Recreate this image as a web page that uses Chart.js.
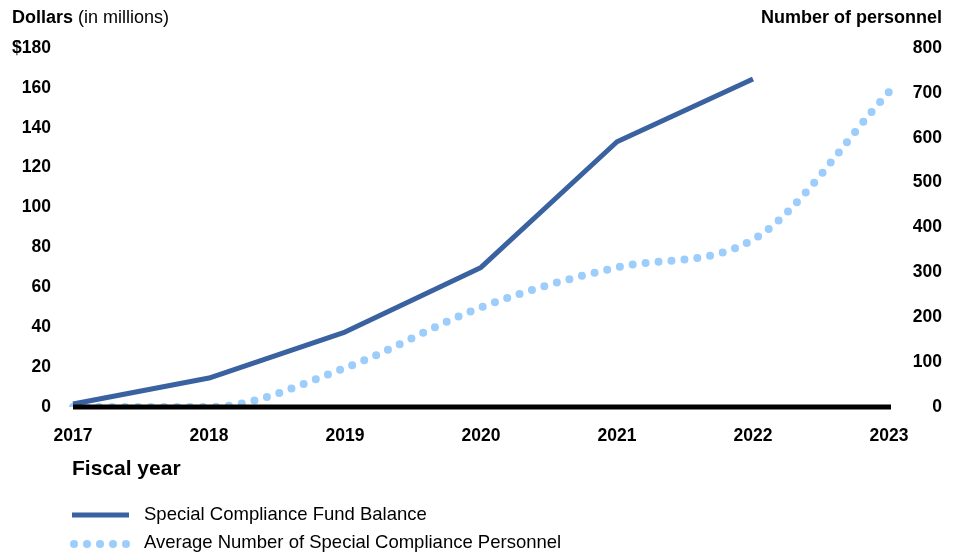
<!DOCTYPE html>
<html>
<head>
<meta charset="utf-8">
<script src="https://cdn.jsdelivr.net/npm/chart.js@4"></script>
<style>
  html, body { margin: 0; padding: 0; background: #fff; }
  #wrap { width: 962px; height: 556px; position: relative; }
</style>
</head>
<body>
<div id="wrap"><canvas id="chart" width="962" height="556"></canvas></div>
<script>
const darkBlue = "#3a62a0";
const lightBlue = "#9ccdfb";
const fontFamily = "'Liberation Sans', Arial, sans-serif";

// data
const years = ["2017", "2018", "2019", "2020", "2021", "2022", "2023"];
const fundBalance = [1.5, 14.5, 37.6, 70, 133, 164.5, null];
const personnel = [0, 0, 87, 222, 311, 373, 702];
const dollarTicks = [0, 20, 40, 60, 80, 100, 120, 140, 160, 180];
const personnelTicks = [0, 100, 200, 300, 400, 500, 600, 700, 800];

const tickFont = { family: fontFamily, size: 17.5, weight: "bold" };

const extras = {
  id: "extras",
  afterDatasetsDraw(chart) {
    const { ctx, chartArea } = chart;
    ctx.save();
    // thick x axis line on top of the data
    ctx.strokeStyle = "#000";
    ctx.lineWidth = 5;
    ctx.beginPath();
    ctx.moveTo(chartArea.left, chartArea.bottom);
    ctx.lineTo(chartArea.right + 2, chartArea.bottom);
    ctx.stroke();

    ctx.fillStyle = "#000";
    ctx.textBaseline = "middle";
    // left axis title
    ctx.font = "bold 18px " + fontFamily;
    ctx.textAlign = "left";
    ctx.fillText("Dollars", 12, 18);
    const w = ctx.measureText("Dollars ").width;
    ctx.font = "18px " + fontFamily;
    ctx.fillText("(in millions)", 12 + w, 18);
    // right axis title
    ctx.font = "bold 18px " + fontFamily;
    ctx.textAlign = "right";
    ctx.fillText("Number of personnel", 942, 18);
    // x axis title
    ctx.textAlign = "left";
    ctx.font = "bold 21px " + fontFamily;
    ctx.fillText("Fiscal year", 72, 469);

    // legend
    ctx.strokeStyle = darkBlue;
    ctx.lineWidth = 5;
    ctx.lineCap = "butt";
    ctx.beginPath();
    ctx.moveTo(72, 515);
    ctx.lineTo(129, 515);
    ctx.stroke();
    ctx.fillStyle = lightBlue;
    for (let i = 0; i < 5; i++) {
      ctx.beginPath();
      ctx.arc(74 + i * 13, 544, 4, 0, Math.PI * 2);
      ctx.fill();
    }
    ctx.fillStyle = "#000";
    ctx.font = "18.5px " + fontFamily;
    ctx.fillText("Special Compliance Fund Balance", 144, 515);
    ctx.fillText("Average Number of Special Compliance Personnel", 144, 543);
    ctx.restore();
  }
};

new Chart(document.getElementById("chart").getContext("2d"), {
  type: "line",
  data: {
    labels: years,
    datasets: [
      {
        label: "Special Compliance Fund Balance",
        data: fundBalance,
        yAxisID: "y",
        borderColor: darkBlue,
        borderWidth: 5,
        pointRadius: 0,
        tension: 0,
        borderJoinStyle: "round",
        order: 1,
      },
      {
        label: "Average Number of Special Compliance Personnel",
        data: personnel,
        yAxisID: "y1",
        borderColor: lightBlue,
        borderWidth: 8,
        borderDash: [0, 13],
        borderCapStyle: "round",
        pointRadius: 0,
        cubicInterpolationMode: "monotone",
        order: 2,
      },
    ],
  },
  options: {
    responsive: false,
    animation: false,
    layout: { padding: { top: 48, right: 20, bottom: 109, left: 0 } },
    plugins: { legend: { display: false }, tooltip: { enabled: false } },
    scales: {
      x: {
        offset: false,
        grid: { display: false, drawTicks: false },
        border: { display: false },
        ticks: { color: "#000", font: tickFont, padding: 19, maxRotation: 0, autoSkip: false },
        afterFit(scale) { scale.height = 40; },
      },
      y: {
        position: "left",
        min: 0,
        max: 180,
        afterBuildTicks(scale) { scale.ticks = dollarTicks.map(v => ({ value: v })); },
        grid: { display: false, drawTicks: false },
        border: { display: false },
        ticks: {
          color: "#000",
          font: tickFont,
          padding: 22,
          callback: v => (v === 180 ? "$" + v : v),
        },
        afterFit(scale) { scale.width = 73; },
      },
      y1: {
        position: "right",
        min: 0,
        max: 800,
        afterBuildTicks(scale) { scale.ticks = personnelTicks.map(v => ({ value: v })); },
        grid: { display: false, drawTicks: false },
        border: { display: false },
        ticks: { color: "#000", font: tickFont, crossAlign: "far" },
        afterFit(scale) { scale.width = 53; },
      },
    },
  },
  plugins: [extras],
});
</script>
</body>
</html>
